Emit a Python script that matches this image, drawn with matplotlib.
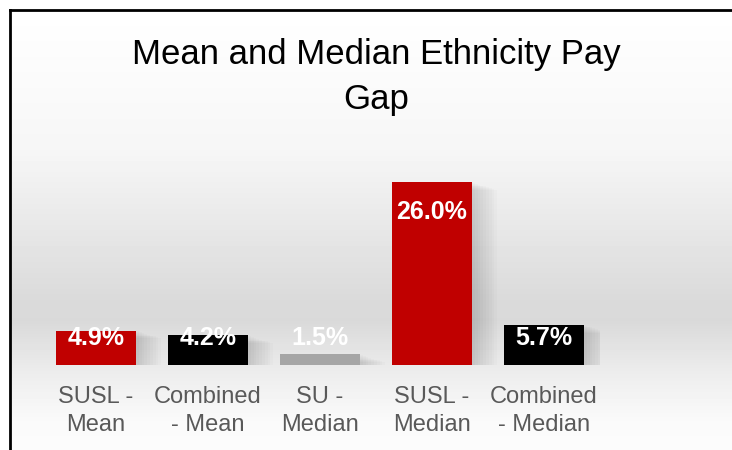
import numpy as np
import matplotlib.pyplot as plt

# ----------------------------------
# Data
# ----------------------------------
categories = ["SUSL -\nMean", "Combined\n- Mean", "SU -\nMedian", "SUSL -\nMedian", "Combined\n- Median"]
pay_gap = [4.9, 4.2, 1.5, 26.0, 5.7]
bar_colors = ["#C00000", "#000000", "#A6A6A6", "#C00000", "#000000"]
value_labels = ["4.9%", "4.2%", "1.5%", "26.0%", "5.7%"]

plt.rcParams['font.family'] = ['Liberation Sans', 'DejaVu Sans']

fig = plt.figure(figsize=(7.32, 4.5), dpi=100)

# ----------------------------------
# Background gradient + frame
# ----------------------------------
bg = fig.add_axes([0, 0, 1, 1])
rows = np.arange(450)
grey = np.interp(rows, [0, 10, 150, 300, 320, 370, 420, 450],
                 [255, 255, 246, 218, 217, 236, 250, 252]) / 255.0
img = np.repeat(grey[:, None], 732, axis=1)
img[:10, :] = 1.0
img[:, :10] = 1.0
bg.imshow(img, cmap="gray", vmin=0, vmax=1, extent=[0, 732, 450, 0], aspect="auto")
bg.plot([10, 732], [10, 10], color="black", lw=2)
bg.plot([10, 10], [10, 450], color="black", lw=2)
bg.set_xlim(0, 732)
bg.set_ylim(450, 0)
bg.axis("off")

# ----------------------------------
# Bars
# ----------------------------------
ax = fig.add_axes([40 / 732, 85 / 450, 560 / 732, 211 / 450])
ax.patch.set_alpha(0)
x = np.arange(len(categories))

# soft shadow
for k in range(10):
    ax.bar(x + 0.015 * k, pay_gap, width=0.714 + 0.02 * k, bottom=-0.12 * k,
           color="black", alpha=0.016, zorder=1, linewidth=0)

ax.bar(x, pay_gap, width=0.714, color=bar_colors, zorder=2)

for xi, v, lab in zip(x, pay_gap, value_labels):
    ax.text(xi, max(v - 4.3, 3.84), lab, ha="center", va="center",
            color="white", fontsize=18, fontweight="bold", zorder=3)

ax.set_xlim(-0.5, 4.5)
ax.set_ylim(0, 30)
ax.set_xticks(x, categories)
ax.tick_params(axis="x", length=0, pad=15, labelsize=17, labelcolor="#595959")
for lbl in ax.get_xticklabels():
    lbl.set_linespacing(1.38)
ax.set_yticks([])
for s in ax.spines.values():
    s.set_visible(False)

fig.text(376 / 732, 1 - 77 / 450, "Mean and Median Ethnicity Pay\nGap",
         ha="center", va="center", fontsize=25, color="black", linespacing=1.45)

fig.savefig("out.png", dpi=100)
